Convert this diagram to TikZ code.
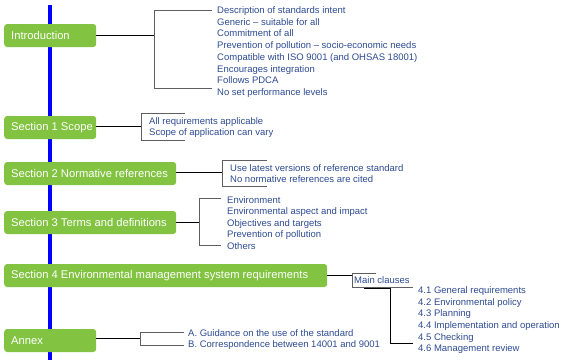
\documentclass[tikz,border=0pt]{standalone}
\usepackage{fontspec}
\setmainfont{Liberation Sans}
\definecolor{boxgreen}{RGB}{130,195,65}
\definecolor{txtblue}{RGB}{45,75,145}
\definecolor{brgray}{RGB}{95,95,95}
\begin{document}
\begin{tikzpicture}[x=1pt,y=-1pt,
  secbox/.style={fill=boxgreen, rounded corners=3pt, text=white, font=\fontsize{11.2}{13}\selectfont, minimum height=23pt, inner xsep=7pt, inner ysep=0pt, anchor=west},
  item/.style={text=txtblue, font=\fontsize{9.5}{11.5}\selectfont, anchor=base west, inner sep=0pt},
  conn/.style={black, line width=0.9pt},
  bracket/.style={brgray, line width=0.9pt}]
\useasboundingbox (0,0) rectangle (565,360);
\coordinate (ltop) at (50,5);
\coordinate (lbot) at (50,360);
\draw[blue, line width=3.5pt] (ltop) -- (lbot);

% section boxes
\node[secbox] (intro) at (4,35.5) {\makebox[78pt][l]{Introduction}};
\node[secbox] (scope) at (4,127.5) {\makebox[78pt][l]{Section 1 Scope}};
\node[secbox] (norm) at (4,173.5) {\makebox[158pt][l]{Section 2 Normative references}};
\node[secbox] (terms) at (4,222.5) {\makebox[158pt][l]{Section 3 Terms and definitions}};
\node[secbox] (ems) at (4,275.5) {\makebox[309pt][l]{Section 4 Environmental management system requirements}};
\node[secbox] (annex) at (4,340.5) {\makebox[78pt][l]{Annex}};

% items
\foreach \t [count=\i from 0] in {Description of standards intent, Generic – suitable for all, Commitment of all, Prevention of pollution – socio-economic needs, Compatible with ISO 9001 (and OHSAS 18001), Encourages integration, Follows PDCA, No set performance levels}
  \node[item] (intro-\i) at (217,{13.5+11.7*\i}) {\t};
\foreach \t [count=\i from 0] in {All requirements applicable, Scope of application can vary}
  \node[item] (scope-\i) at (149,{124+11.5*\i}) {\t};
\foreach \t [count=\i from 0] in {Use latest versions of reference standard, No normative references are cited}
  \node[item] (norm-\i) at (230,{171+11.5*\i}) {\t};
\foreach \t [count=\i from 0] in {Environment, Environmental aspect and impact, Objectives and targets, Prevention of pollution, Others}
  \node[item] (terms-\i) at (227,{203.3+11.45*\i}) {\t};
\node[item] (main) at (354,283.5) {Main clauses};
\foreach \t [count=\i from 0] in {4.1 General requirements, 4.2 Environmental policy, 4.3 Planning, 4.4 Implementation and operation, 4.5 Checking, 4.6 Management review}
  \node[item] (cl-\i) at (418,{293.3+11.7*\i}) {\t};
\foreach \t [count=\i from 0] in {A. Guidance on the use of the standard, B. Correspondence between 14001 and 9001}
  \node[item] (annex-\i) at (188,{336.7+11.2*\i}) {\t};

% brackets and connectors
% Introduction
\coordinate (ib) at (154,35.5);
\coordinate (ib-t) at (154,10); \coordinate (ib-te) at (212,10);
\coordinate (ib-b) at (154,88); \coordinate (ib-be) at (212,88);
\draw[bracket] (ib-te) -- (ib-t) -- (ib-b) -- (ib-be);
\draw[conn] (intro.east) -- (ib);
% Scope
\coordinate (sb) at (141,126);
\coordinate (sb-t) at (141,113); \coordinate (sb-te) at (185,113);
\coordinate (sb-b) at (141,140); \coordinate (sb-be) at (185,140);
\draw[bracket] (sb-te) -- (sb-t) -- (sb-b) -- (sb-be);
\draw[conn] (scope.east |- sb) -- (sb);
% Normative
\coordinate (nb) at (222,172);
\coordinate (nb-t) at (222,160); \coordinate (nb-te) at (267,160);
\coordinate (nb-b) at (222,186); \coordinate (nb-be) at (267,186);
\draw[bracket] (nb-te) -- (nb-t) -- (nb-b) -- (nb-be);
\draw[conn] (norm.east |- nb) -- (nb);
% Terms
\coordinate (tb) at (199,222.5);
\coordinate (tb-t) at (199,198); \coordinate (tb-te) at (221,198);
\coordinate (tb-b) at (199,245); \coordinate (tb-be) at (221,245);
\draw[bracket] (tb-te) -- (tb-t) -- (tb-b) -- (tb-be);
\draw[conn] (terms.east) -- (tb);
% Section 4
\coordinate (eb) at (352,275.5);
\coordinate (eb-t) at (352,273); \coordinate (eb-te) at (376,273);
\coordinate (eb-b) at (352,287); \coordinate (eb-be) at (413,287);
\draw[bracket] (eb-te) -- (eb-t) -- (eb-b) -- (eb-be);
\draw[conn] (ems.east) -- (eb);
\coordinate (mb-s) at (364,288);
\coordinate (mb) at (390,288);
\coordinate (mb-b) at (390,343.5); \coordinate (mb-be) at (413,343.5);
\draw[conn] (mb-s) -- (mb) -- (mb-b) -- (mb-be);
% Annex
\coordinate (ab) at (140,338.5);
\coordinate (ab-t) at (140,332); \coordinate (ab-te) at (184,332);
\coordinate (ab-b) at (140,345.5); \coordinate (ab-be) at (184,345.5);
\draw[bracket] (ab-te) -- (ab-t) -- (ab-b) -- (ab-be);
\draw[conn] (annex.east |- ab) -- (ab);
\end{tikzpicture}
\end{document}
